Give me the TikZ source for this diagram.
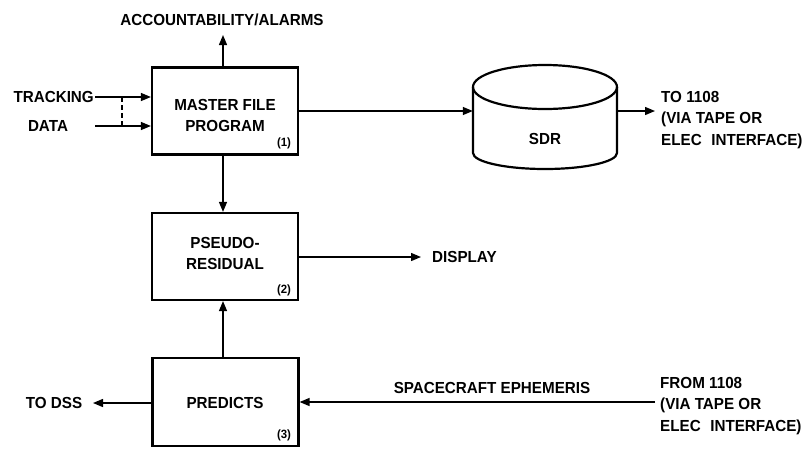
\documentclass[tikz,border=0pt]{standalone}
\usepackage{fontspec}
\setmainfont{Liberation Sans}[FakeStretch=0.95]
\usetikzlibrary{arrows.meta}
\begin{document}
\begin{tikzpicture}[x=1pt,y=-1pt,
  every node/.style={font=\fontsize{16}{19}\selectfont\bfseries, inner sep=0pt},
  box/.style={draw, line width=2.2pt, minimum width=146pt, minimum height=87pt, align=center},
  numlbl/.style={font=\fontsize{12}{14}\selectfont\bfseries},
  arr/.style={line width=1.4pt, -{Triangle[length=10pt,width=8pt]}},
  ln/.style={line width=1.4pt},
  multi/.style={align=left, font=\fontsize{16}{21.5}\selectfont\bfseries}]
\useasboundingbox (0,0) rectangle (805,448);

% boxes
\node[box] (master) at (225,111) {};
\node (mastertxt) at (225,115) [align=center] {MASTER FILE\\[2pt]PROGRAM};
\node[numlbl] (n1) at (284,143) {(1)};

\node[box] (pseudo) at (225,256.5) {};
\node (pseudotxt) at (225,253) [align=center] {PSEUDO-\\[2pt]RESIDUAL};
\node[numlbl] (n2) at (284,290) {(2)};

\node[box, minimum height=88pt] (predicts) at (225.5,402) {};
\node (predtxt) at (225,403) {PREDICTS};
\node[numlbl] (n3) at (284,435) {(3)};

% SDR cylinder
\node[minimum width=144pt, minimum height=92pt] (sdr) at (545,111) {};
\draw[line width=2.2pt] (545,87) ellipse [x radius=72, y radius=22];
\draw[line width=2.2pt] (473,87) -- (473,153) arc[start angle=180, end angle=0, x radius=72, y radius=16] -- (617,87);
\node (sdrtxt) at (545,139) {SDR};

% labels
\node (acc) at (222,20) {ACCOUNTABILITY/ALARMS};
\node[anchor=east] (track) at (94,97) {TRACKING};
\node (data) at (48,126) {DATA};
\node[anchor=west] (disp) at (432,257) {DISPLAY};
\node (todss) at (54,403) {TO DSS};
\node (ephem) at (492,388) {SPACECRAFT EPHEMERIS};
\node[multi, anchor=north west] (to1108) at (661,91) {TO 1108\\(VIA TAPE OR\\ELEC\hspace{0.6em}INTERFACE)};
\node[multi, anchor=north west] (from1108) at (660,377) {FROM 1108\\(VIA TAPE OR\\ELEC\hspace{0.6em}INTERFACE)};

% coordinates
\coordinate (t1) at (95,97);
\coordinate (t2) at (95,126);
\coordinate (d1) at (122,97);
\coordinate (d2) at (122,126);
\coordinate (accend) at (223,35);
\coordinate (dispend) at (421,257);
\coordinate (sdrout) at (655,111);
\coordinate (dssend) at (93,403);
\coordinate (ephstart) at (655,402);

% connectors
\draw[arr] (t1) -- (master.west |- t1);
\draw[arr] (t2) -- (master.west |- t2);
\draw[ln, dashed, dash pattern=on 5pt off 3pt] (d1) -- (d2);
\draw[arr] (master.north -| accend) -- (accend);
\draw[arr] (master.south -| accend) -- (pseudo.north -| accend);
\draw[arr] (predicts.north -| accend) -- (pseudo.south -| accend);
\draw[arr] (master.east) -- (sdr.west);
\draw[arr] (sdr.east) -- (sdrout);
\draw[arr] (pseudo.east |- dispend) -- (dispend);
\draw[arr] (predicts.west |- dssend) -- (dssend);
\draw[arr] (ephstart) -- (predicts.east |- ephstart);
\end{tikzpicture}
\end{document}
